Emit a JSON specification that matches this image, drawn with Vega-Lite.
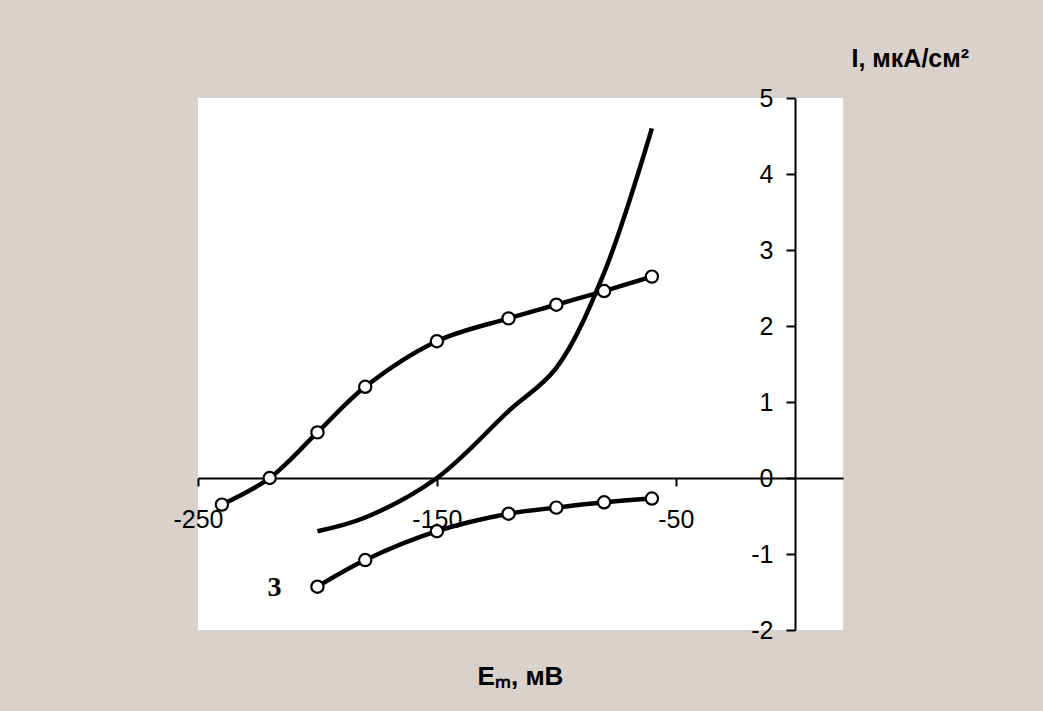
{
  "$schema": "https://vega.github.io/schema/vega-lite/v6.json",
  "width": 645,
  "height": 532,
  "autosize": {"type": "none"},
  "padding": {"left": 198, "top": 98, "right": 200, "bottom": 81},
  "background": "#d9d1cb",
  "config": {"font": "Liberation Sans", "view": {"fill": "white", "stroke": null}},
  "datasets": {
    "curves": [
      {"series": "1", "marker": true, "x": -240, "y": -0.35},
      {"series": "1", "marker": true, "x": -220, "y": 0},
      {"series": "1", "marker": true, "x": -200, "y": 0.6},
      {"series": "1", "marker": true, "x": -180, "y": 1.2},
      {"series": "1", "marker": true, "x": -150, "y": 1.8},
      {"series": "1", "marker": true, "x": -120, "y": 2.1},
      {"series": "1", "marker": true, "x": -100, "y": 2.28},
      {"series": "1", "marker": true, "x": -80, "y": 2.46},
      {"series": "1", "marker": true, "x": -60, "y": 2.65},
      {"series": "2", "marker": false, "x": -200, "y": -0.7},
      {"series": "2", "marker": false, "x": -180, "y": -0.52},
      {"series": "2", "marker": false, "x": -150, "y": 0},
      {"series": "2", "marker": false, "x": -120, "y": 0.88},
      {"series": "2", "marker": false, "x": -100, "y": 1.45},
      {"series": "2", "marker": false, "x": -80, "y": 2.7},
      {"series": "2", "marker": false, "x": -60, "y": 4.6},
      {"series": "3", "marker": true, "x": -200, "y": -1.43},
      {"series": "3", "marker": true, "x": -180, "y": -1.08},
      {"series": "3", "marker": true, "x": -150, "y": -0.7},
      {"series": "3", "marker": true, "x": -120, "y": -0.47},
      {"series": "3", "marker": true, "x": -100, "y": -0.39},
      {"series": "3", "marker": true, "x": -80, "y": -0.32},
      {"series": "3", "marker": true, "x": -60, "y": -0.27}
    ],
    "labels": [
      {"label": "3", "x": -218, "y": -1.45}
    ]
  },
  "encoding": {
    "x": {
      "field": "x",
      "type": "quantitative",
      "scale": {"domain": [-250, 20], "nice": false, "zero": false},
      "axis": {
        "orient": "bottom",
        "offset": -152,
        "values": [-250, -150, -50],
        "labelExpr": "toString(datum.value)",
        "grid": false,
        "domainColor": "black",
        "domainWidth": 2,
        "tickColor": "black",
        "tickWidth": 2,
        "tickSize": 8,
        "labelFontSize": 25,
        "labelColor": "black",
        "labelPadding": 21,
        "labelFlush": false,
        "labelOverlap": false,
        "title": "Eₘ, мВ",
        "titleFontSize": 26,
        "titleFontWeight": "bold",
        "titleColor": "black",
        "titleX": 322,
        "titleY": 198,
        "titleAlign": "center",
        "titleBaseline": "middle"
      }
    },
    "y": {
      "field": "y",
      "type": "quantitative",
      "scale": {"domain": [-2, 5], "nice": false, "zero": false},
      "axis": {
        "orient": "left",
        "offset": -597,
        "values": [-2, -1, 0, 1, 2, 3, 4, 5],
        "labelExpr": "toString(datum.value)",
        "grid": false,
        "domainColor": "black",
        "domainWidth": 2,
        "tickColor": "black",
        "tickWidth": 2,
        "tickSize": 9,
        "labelFontSize": 25,
        "labelColor": "black",
        "labelPadding": 13,
        "labelFlush": false,
        "labelOverlap": false,
        "title": "I, мкА/см²",
        "titleAngle": 0,
        "titleFontSize": 25,
        "titleFontWeight": "bold",
        "titleColor": "black",
        "titleX": 56,
        "titleY": -40,
        "titleAlign": "left",
        "titleBaseline": "middle"
      }
    }
  },
  "layer": [
    {
      "data": {"name": "curves"},
      "mark": {"type": "line", "color": "black", "strokeWidth": 4.5, "interpolate": "catmull-rom"},
      "encoding": {"detail": {"field": "series"}}
    },
    {
      "data": {"name": "curves"},
      "transform": [{"filter": "datum.marker"}],
      "mark": {"type": "point", "shape": "circle", "filled": true, "fill": "white", "stroke": "black", "strokeWidth": 2.2, "size": 150, "opacity": 1}
    },
    {
      "data": {"name": "labels"},
      "mark": {"type": "text", "font": "Liberation Serif", "fontSize": 28, "fontWeight": "bold", "color": "black", "align": "center", "baseline": "middle"},
      "encoding": {"text": {"field": "label"}}
    }
  ]
}
